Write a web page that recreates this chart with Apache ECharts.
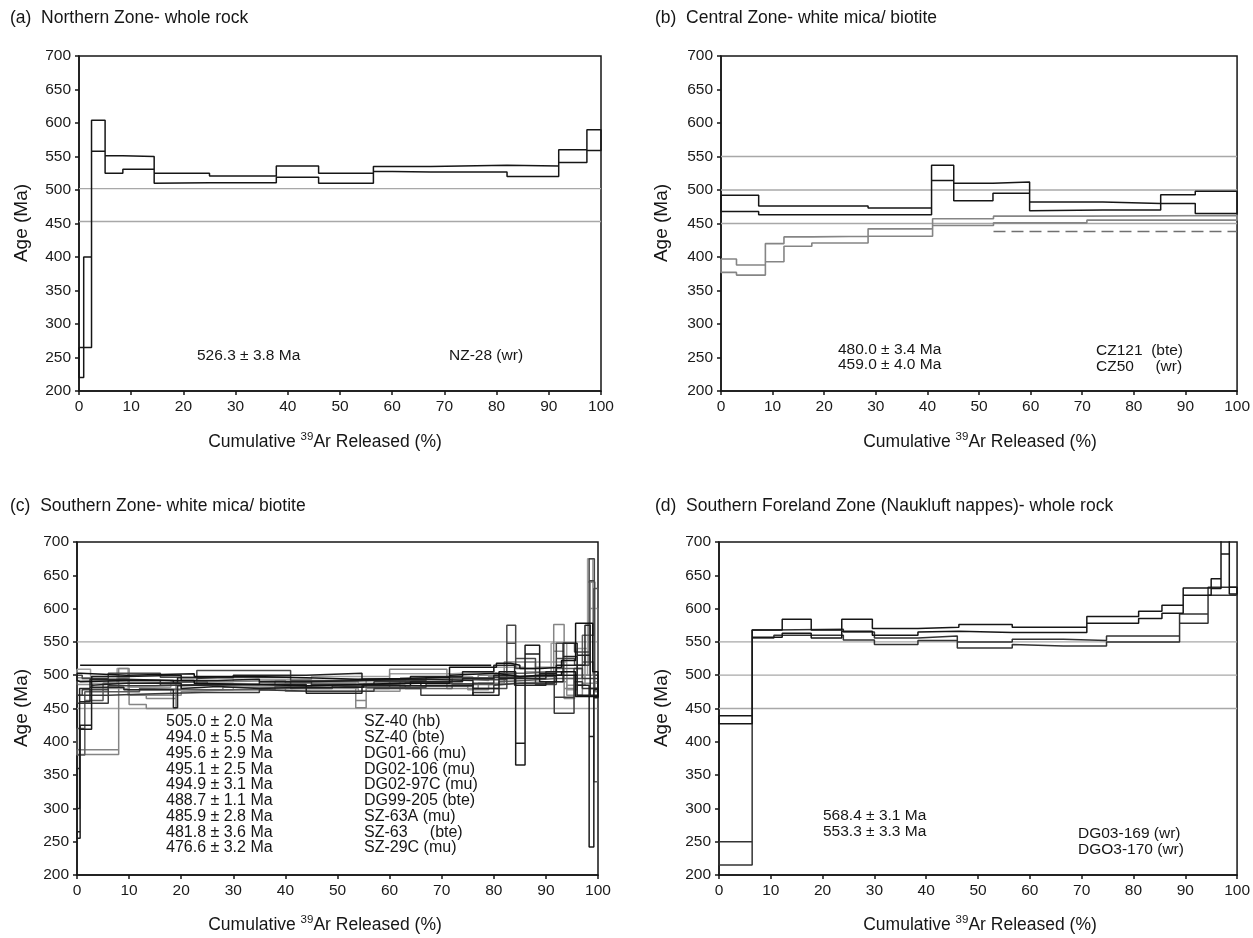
<!DOCTYPE html>
<html>
<head>
<meta charset="utf-8">
<script src="https://cdn.jsdelivr.net/npm/echarts@6/dist/echarts.min.js"></script>
<style>
  html, body { margin: 0; padding: 0; background: #fff; }
  #chart { width: 1253px; height: 938px; }
</style>
</head>
<body>
<div id="chart"></div>
<script>
// axis ranges
var xRange = [0, 100, 10];
var yRange = [200, 700, 50];

// each step: [start %, end %, age low, age high]
// (a) NZ-28 (wr)
var nz28 = [
  [0, 0.9, 220, 265], [0.9, 2.4, 265, 400], [2.4, 5.0, 558, 604], [5.0, 8.4, 525, 551],
  [8.4, 14.4, 531, 550], [14.4, 25.0, 510, 525], [25.0, 37.8, 511, 521], [37.8, 45.9, 519, 536],
  [45.9, 56.4, 510, 525], [56.4, 67.4, 528, 535], [67.4, 82.0, 527, 537], [82.0, 91.9, 520, 536],
  [91.9, 97.3, 541, 560], [97.3, 100, 559, 590]
];
var aRefs = [502, 453];

// (b) CZ121 (bte), CZ50 (wr)
var cz121 = [
  [0, 7.3, 468, 492], [7.3, 28.5, 463, 476], [28.5, 40.8, 463, 473], [40.8, 45.1, 514, 537],
  [45.1, 52.7, 484, 510], [52.7, 59.8, 495, 512], [59.8, 74.0, 469, 482], [74.0, 85.2, 470, 480],
  [85.2, 91.9, 480, 493], [91.9, 100, 465, 498]
];
var cz50 = [
  [0, 3.0, 377, 397], [3.0, 8.6, 373, 388], [8.6, 12.2, 393, 420], [12.2, 17.6, 416, 430],
  [17.6, 28.5, 421, 431], [28.5, 41.0, 431, 442], [41.0, 52.8, 447, 457], [52.8, 70.9, 451, 461],
  [70.9, 100, 455, 462]
];
var bRefs = [550, 500, 450];
var bPlateau = [52.8, 100, 438];

// (c) southern zone samples
var sz40hb = [
  [0, 0.7, 492, 503], [0.7, 9.5, 490, 500], [9.5, 22.5, 492, 502], [22.5, 34, 488, 498],
  [34, 44, 486, 496], [44, 54, 484, 494], [54, 62, 486, 495], [62, 71.5, 488, 497],
  [71.5, 80.5, 500, 512], [80.5, 83.2, 503, 518], [83.2, 85, 500, 515], [85, 89, 498, 510],
  [89, 93, 500, 512], [93, 95.7, 505, 522], [95.7, 99, 468, 578], [99, 100, 468, 505]
];
var sz40bte = [
  [0, 0.6, 255, 265], [0.6, 2.8, 419, 425], [2.8, 9.5, 485, 498], [9.5, 20, 488, 500],
  [20, 27, 480, 492], [27, 35, 483, 494], [35, 44, 480, 490], [44, 55, 482, 492],
  [55, 66, 486, 494], [66, 76, 484, 492], [76, 81, 470, 480], [81, 84.2, 495, 505],
  [84.2, 86, 365, 398], [86, 88.8, 532, 545], [88.8, 92, 490, 502], [92, 96, 500, 515],
  [96, 98.3, 470, 485], [98.3, 99.2, 242, 408], [99.2, 100, 466, 478]
];
var dg0166 = [
  [0, 8.0, 381, 388], [8.0, 10.0, 495, 510], [10.0, 13.3, 456, 470], [13.3, 19.0, 450, 465],
  [19.0, 28, 478, 490], [28, 40, 482, 492], [40, 53.5, 476, 488], [53.5, 55.5, 451, 462],
  [55.5, 60, 480, 492], [60, 71, 490, 509], [71, 77, 480, 494], [77, 82, 488, 500],
  [82, 88, 495, 520], [88, 91.5, 500, 512], [91.5, 93.5, 536, 576], [93.5, 95.5, 465, 480],
  [95.5, 97.5, 485, 500], [97.5, 98.5, 500, 530], [98.5, 99.4, 600, 640], [99.4, 100, 475, 490]
];
var dg02106 = [
  [0, 2.6, 492, 509], [2.6, 7.7, 488, 498], [7.7, 9.8, 496, 510], [9.8, 18, 470, 482],
  [18, 30, 478, 490], [30, 45, 482, 494], [45, 60, 488, 498], [60, 72, 492, 502],
  [72, 80, 494, 505], [80, 86, 498, 512], [86, 91, 505, 520], [91, 94, 520, 548],
  [94, 96, 478, 495], [96, 98, 500, 540], [98, 99, 640, 675], [99, 100, 500, 600]
];
var dg0297c = [
  [0, 1.0, 470, 500], [1.0, 6, 478, 495], [6, 16, 492, 503], [16, 23, 485, 497],
  [23, 27, 495, 507], [27, 33.5, 497, 507], [33.5, 41, 497, 507], [41, 49, 480, 492],
  [49, 56, 484, 494], [56, 67, 482, 492], [67, 76, 487, 497], [76, 82.5, 480, 493],
  [82.5, 84.2, 548, 575], [84.2, 88, 510, 525], [88, 92, 486, 498], [92, 95.5, 525, 548],
  [95.5, 98.3, 515, 535], [98.3, 99.3, 642, 675], [99.3, 100, 480, 500]
];
var dg99205 = [
  [0, 0.5, 300, 360], [0.5, 2.5, 460, 480], [2.5, 9, 482, 494], [9, 18.5, 478, 492],
  [18.5, 19.3, 451, 488], [19.3, 30, 484, 496], [30, 44, 486, 500], [44, 54.7, 473, 503],
  [54.7, 64, 484, 494], [64, 74, 490, 498], [74, 80, 495, 505], [80, 84, 500, 515],
  [84, 90, 485, 495], [90, 93.3, 490, 505], [93.3, 96, 528, 548], [96, 97.5, 515, 530],
  [97.5, 98.5, 530, 575], [98.5, 100, 470, 480]
];
var sz63a = [
  [0, 6.0, 458, 470], [6, 15, 470, 484], [15, 24, 472, 486], [24, 35, 474, 486],
  [35, 45, 478, 490], [45, 57, 476, 486], [57, 66, 480, 490], [66, 76, 470, 484],
  [76, 80, 474, 488], [80, 85, 485, 497], [85, 91.6, 488, 500], [91.6, 95.4, 443, 467],
  [95.4, 97, 490, 510], [97, 100, 480, 495]
];
var sz63 = [
  [0, 1.5, 380, 420], [1.5, 5, 462, 475], [5, 12, 475, 488], [12, 25, 480, 490],
  [25, 38, 478, 486], [38, 50, 483, 491], [50, 63, 485, 493], [63, 72, 480, 489],
  [72, 81, 486, 496], [81, 86, 490, 503], [86, 92, 492, 505], [92, 97, 495, 510],
  [97, 99.2, 520, 560], [99.2, 100, 340, 630]
];
var sz29c = [
  [0, 3, 486, 496], [3, 10, 480, 492], [10, 20, 470, 478], [20, 30, 475, 485],
  [30, 43, 478, 488], [43, 54, 480, 490], [54, 62, 476, 486], [62, 75, 484, 495],
  [75, 79, 478, 492], [79, 84, 486, 498], [84, 90, 488, 500], [90, 94, 490, 505],
  [94, 97, 470, 485], [97, 100, 488, 500]
];
var cRefs = [550, 450];
var cPlateau = [0.6, 79.5, 515];
var cAges = ['505.0 ± 2.0 Ma', '494.0 ± 5.5 Ma', '495.6 ± 2.9 Ma', '495.1 ± 2.5 Ma', '494.9 ± 3.1 Ma',
             '488.7 ± 1.1 Ma', '485.9 ± 2.8 Ma', '481.8 ± 3.6 Ma', '476.6 ± 3.2 Ma'];
var cNames = ['SZ-40 (hb)', 'SZ-40 (bte)', 'DG01-66 (mu)', 'DG02-106 (mu)', 'DG02-97C (mu)',
              'DG99-205 (bte)', 'SZ-63A (mu)', 'SZ-63     (bte)', 'SZ-29C (mu)'];

// (d) DG03-169 (wr), DGO3-170 (wr)
var dg03169 = [
  [0, 6.4, 427, 439], [6.4, 12.2, 557, 568], [12.2, 17.8, 563, 584], [17.8, 23.7, 556, 568],
  [23.7, 29.6, 566, 584], [29.6, 38.4, 560, 570], [38.4, 46.3, 565, 572], [46.3, 56.6, 566, 576],
  [56.6, 71.0, 564, 572], [71.0, 81.0, 578, 588], [81.0, 85.5, 585, 596], [85.5, 89.6, 593, 605],
  [89.6, 95.0, 620, 631], [95.0, 96.9, 630, 645], [96.9, 98.5, 682, 706], [98.5, 100, 622, 632]
];
var dg03170 = [
  [0, 6.4, 215, 250], [6.4, 10.6, 556, 568], [10.6, 24.0, 560, 569], [24.0, 30.0, 553, 565],
  [30.0, 38.4, 546, 556], [38.4, 46.0, 552, 559], [46.0, 56.6, 541, 550], [56.6, 66.5, 546, 554],
  [66.5, 74.8, 544, 552], [74.8, 88.9, 550, 559], [88.9, 94.4, 578, 592], [94.4, 100, 620, 632]
];
var dRefs = [550, 500, 450];

var FONT = '"Liberation Sans", Arial, Helvetica, sans-serif';
var INK = '#161616';

// closed outline of a step spectrum: upper edge forward, lower edge back
function outline(steps) {
  var pts = [];
  steps.forEach(function (s) { pts.push([s[0], s[3]], [s[1], s[3]]); });
  for (var i = steps.length - 1; i >= 0; i--) {
    pts.push([steps[i][1], steps[i][2]], [steps[i][0], steps[i][2]]);
  }
  pts.push([steps[0][0], steps[0][3]]);
  return pts;
}

function spectrum(steps, k, color, width) {
  return {
    type: 'line', xAxisIndex: k, yAxisIndex: k, data: outline(steps),
    symbol: 'none', silent: true, animation: false,
    lineStyle: { color: color, width: width || 1.5 }, z: 3
  };
}

function refLine(v, k) {
  return {
    type: 'line', xAxisIndex: k, yAxisIndex: k, data: [[xRange[0], v], [xRange[1], v]],
    symbol: 'none', silent: true, animation: false,
    lineStyle: { color: '#a8a8a8', width: 1.3 }, z: 2
  };
}

function bar(p, k, color, dashed) {
  return {
    type: 'line', xAxisIndex: k, yAxisIndex: k, data: [[p[0], p[2]], [p[1], p[2]]],
    symbol: 'none', silent: true, animation: false,
    lineStyle: { color: color, width: 1.6, type: dashed ? [12, 6] : 'solid' }, z: 4
  };
}

var grids = [
  { left: 79, top: 56, width: 522, height: 335 },
  { left: 721, top: 56, width: 520, height: 335 },
  { left: 77, top: 542, width: 521, height: 333 },
  { left: 719, top: 542, width: 520, height: 333 }
].map(function (g) {
  g.show = true; g.borderColor = INK; g.borderWidth = 1.5; g.containLabel = false;
  return g;
});

var axisCommon = function (k, r) {
  return {
    type: 'value', gridIndex: k, min: r[0], max: r[1], interval: r[2],
    axisLine: { show: true, lineStyle: { color: INK, width: 1.5 } },
    axisTick: { show: true, length: 4, lineStyle: { color: INK, width: 1.5 } },
    axisLabel: { color: '#1a1a1a', fontSize: 15.5, fontFamily: FONT, margin: 8 },
    splitLine: { show: false }
  };
};

var series = [];
aRefs.forEach(function (v) { series.push(refLine(v, 0)); });
series.push(spectrum(nz28, 0, INK));

bRefs.forEach(function (v) { series.push(refLine(v, 1)); });
series.push(spectrum(cz50, 1, '#858585', 1.6));
series.push(bar(bPlateau, 1, '#707070', true));
series.push(spectrum(cz121, 1, INK));

cRefs.forEach(function (v) { series.push(refLine(v, 2)); });
series.push(spectrum(dg02106, 2, '#a0a0a0'));
series.push(spectrum(sz29c, 2, '#8f8f8f'));
series.push(spectrum(dg0166, 2, '#858585'));
series.push(spectrum(sz63, 2, '#5a5a5a'));
series.push(spectrum(dg0297c, 2, '#474747'));
series.push(spectrum(sz63a, 2, '#3a3a3a'));
series.push(spectrum(dg99205, 2, '#222'));
series.push(spectrum(sz40bte, 2, '#1c1c1c'));
series.push(spectrum(sz40hb, 2, '#111'));
series.push(bar(cPlateau, 2, '#111', false));

dRefs.forEach(function (v) { series.push(refLine(v, 3)); });
series.push(spectrum(dg03170, 3, '#333'));
series.push(spectrum(dg03169, 3, INK));

function txt(x, y, s, opts) {
  opts = opts || {};
  return {
    type: 'text', x: x, y: y, rotation: opts.rot || 0, silent: true, z: 10,
    style: {
      text: s, fontSize: opts.size || 15.5, fontFamily: FONT, fill: INK,
      align: opts.align || 'left', verticalAlign: 'middle', rich: opts.rich
    }
  };
}

var xName = '{n|Cumulative }{s|39}{n|Ar Released (%)}';
var xRich = {
  n: { fontSize: 17.5, fontFamily: FONT, fill: INK, lineHeight: 22 },
  s: { fontSize: 11.5, fontFamily: FONT, fill: INK, verticalAlign: 'top', lineHeight: 22 }
};

var graphics = [
  txt(10, 18, '(a)  Northern Zone- whole rock', { size: 17.5 }),
  txt(655, 18, '(b)  Central Zone- white mica/ biotite', { size: 17.5 }),
  txt(10, 506, '(c)  Southern Zone- white mica/ biotite', { size: 17.5 }),
  txt(655, 506, '(d)  Southern Foreland Zone (Naukluft nappes)- whole rock', { size: 17.5 }),
  txt(22, 223, 'Age (Ma)', { size: 19, align: 'center', rot: Math.PI / 2 }),
  txt(662, 223, 'Age (Ma)', { size: 19, align: 'center', rot: Math.PI / 2 }),
  txt(22, 708, 'Age (Ma)', { size: 19, align: 'center', rot: Math.PI / 2 }),
  txt(662, 708, 'Age (Ma)', { size: 19, align: 'center', rot: Math.PI / 2 }),
  txt(325, 442, xName, { align: 'center', rich: xRich }),
  txt(980, 442, xName, { align: 'center', rich: xRich }),
  txt(325, 925, xName, { align: 'center', rich: xRich }),
  txt(980, 925, xName, { align: 'center', rich: xRich }),
  txt(197, 356, '526.3 ± 3.8 Ma'),
  txt(449, 356, 'NZ-28 (wr)'),
  txt(838, 350, '480.0 ± 3.4 Ma'),
  txt(838, 365, '459.0 ± 4.0 Ma'),
  txt(1096, 351, 'CZ121  (bte)'),
  txt(1096, 367, 'CZ50     (wr)'),
  txt(823, 816, '568.4 ± 3.1 Ma'),
  txt(823, 832, '553.3 ± 3.3 Ma'),
  txt(1078, 834, 'DG03-169 (wr)'),
  txt(1078, 850, 'DGO3-170 (wr)')
];
cAges.forEach(function (s, i) { graphics.push(txt(166, 722 + i * 15.75, s, { size: 16 })); });
cNames.forEach(function (s, i) { graphics.push(txt(364, 722 + i * 15.75, s, { size: 16 })); });

var chart = echarts.init(document.getElementById('chart'), null, { renderer: 'canvas' });
chart.setOption({
  backgroundColor: '#fff',
  animation: false,
  grid: grids,
  xAxis: [0, 1, 2, 3].map(function (k) { return axisCommon(k, xRange); }),
  yAxis: [0, 1, 2, 3].map(function (k) { return axisCommon(k, yRange); }),
  series: series,
  graphic: graphics
});
</script>
</body>
</html>
